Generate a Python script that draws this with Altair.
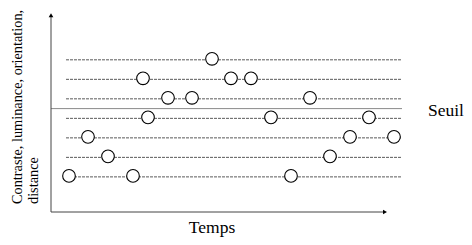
import altair as alt
import pandas as pd

# Data
levels = [1, 2, 3, 4, 5, 6, 7]
threshold_level = 4.5
trial_time = [0.9, 1.85, 2.85, 4.1, 4.6, 4.85, 5.85, 7.05, 8.05, 9.0,
              10.0, 11.0, 12.0, 12.95, 13.95, 14.95, 15.9, 17.15]
trial_level = [1, 3, 2, 1, 6, 4, 5, 5, 7, 6, 6, 4, 1, 5, 2, 3, 4, 3]

x_min, x_max = 0, 17.55
y_min, y_max = -0.8, 9.4
line_start, line_end = 0.75, 17.5
xaxis_end = 16.7
yaxis_end = 9.28

X = alt.Scale(domain=[x_min, x_max], nice=False, zero=False)
Y = alt.Scale(domain=[y_min, y_max], nice=False, zero=False)

serif = "Liberation Serif"

lv = pd.DataFrame({"y": levels, "x": line_start, "x2": line_end})
dashed = alt.Chart(lv).mark_rule(color="#5a5a5a", strokeDash=[3, 1], strokeWidth=1).encode(
    x=alt.X("x:Q", scale=X, axis=None), x2="x2", y=alt.Y("y:Q", scale=Y, axis=None))

thr = pd.DataFrame({"y": [threshold_level], "x": [x_min], "x2": [x_max]})
thr_line = alt.Chart(thr).mark_rule(color="#8a8a8a", strokeWidth=1).encode(
    x=alt.X("x:Q", scale=X, axis=None), x2="x2", y=alt.Y("y:Q", scale=Y, axis=None))

xa = pd.DataFrame({"y": [y_min], "x": [x_min], "x2": [xaxis_end]})
x_axis = alt.Chart(xa).mark_rule(color="#444", strokeWidth=1).encode(
    x=alt.X("x:Q", scale=X, axis=None), x2="x2", y=alt.Y("y:Q", scale=Y, axis=None))

ya = pd.DataFrame({"x": [x_min], "y": [y_min], "y2": [yaxis_end]})
y_axis = alt.Chart(ya).mark_rule(color="#444", strokeWidth=1).encode(
    x=alt.X("x:Q", scale=X, axis=None), y=alt.Y("y:Q", scale=Y, axis=None), y2="y2")

arr_up = alt.Chart(pd.DataFrame({"x": [x_min], "y": [yaxis_end]})).mark_point(
    shape="triangle-up", filled=True, color="black", size=22, opacity=1).encode(
    x=alt.X("x:Q", scale=X, axis=None), y=alt.Y("y:Q", scale=Y, axis=None))
arr_right = alt.Chart(pd.DataFrame({"x": [xaxis_end], "y": [y_min]})).mark_point(
    shape="triangle-right", filled=True, color="black", size=22, opacity=1).encode(
    x=alt.X("x:Q", scale=X, axis=None), y=alt.Y("y:Q", scale=Y, axis=None))

tr = pd.DataFrame({"t": trial_time, "lvl": trial_level})
circles = alt.Chart(tr).mark_point(shape="circle", size=160, filled=False, fill="white",
                                   fillOpacity=1, stroke="black", strokeWidth=1.1,
                                   opacity=1, yOffset=-1).encode(
    x=alt.X("t:Q", scale=X, axis=None), y=alt.Y("lvl:Q", scale=Y, axis=None))

seuil = alt.Chart(pd.DataFrame({"x": [18.85], "y": [4.105], "t": ["Seuil"]})).mark_text(
    align="left", baseline="alphabetic", font=serif, fontSize=17.5, color="black").encode(
    x=alt.X("x:Q", scale=X, axis=None), y=alt.Y("y:Q", scale=Y, axis=None), text="t")

temps = alt.Chart(pd.DataFrame({"x": [8.05], "y": [-1.877], "t": ["Temps"]})).mark_text(
    align="center", baseline="alphabetic", font=serif, fontSize=17.5, color="black").encode(
    x=alt.X("x:Q", scale=X, axis=None), y=alt.Y("y:Q", scale=Y, axis=None), text="t")

ytitle = alt.Chart(pd.DataFrame({"x": [-1.475, -0.635], "y": [-0.39, -0.39],
                                 "t": ["Contraste, luminance, orientation,", "distance"]})).mark_text(
    align="left", baseline="alphabetic", angle=270, font=serif, fontSize=14.3, color="black").encode(
    x=alt.X("x:Q", scale=X, axis=None), y=alt.Y("y:Q", scale=Y, axis=None), text="t")

chart = alt.layer(dashed, thr_line, x_axis, y_axis, arr_up, arr_right, circles,
                  seuil, temps, ytitle).properties(
    width=351, height=199,
    autosize=alt.AutoSizeParams(type="none"),
    padding={"left": 43, "top": 5, "right": 62, "bottom": 25},
).configure(background="white").configure_view(stroke=None)

chart.save("out.html", embed_options={"renderer": "svg", "actions": False})
